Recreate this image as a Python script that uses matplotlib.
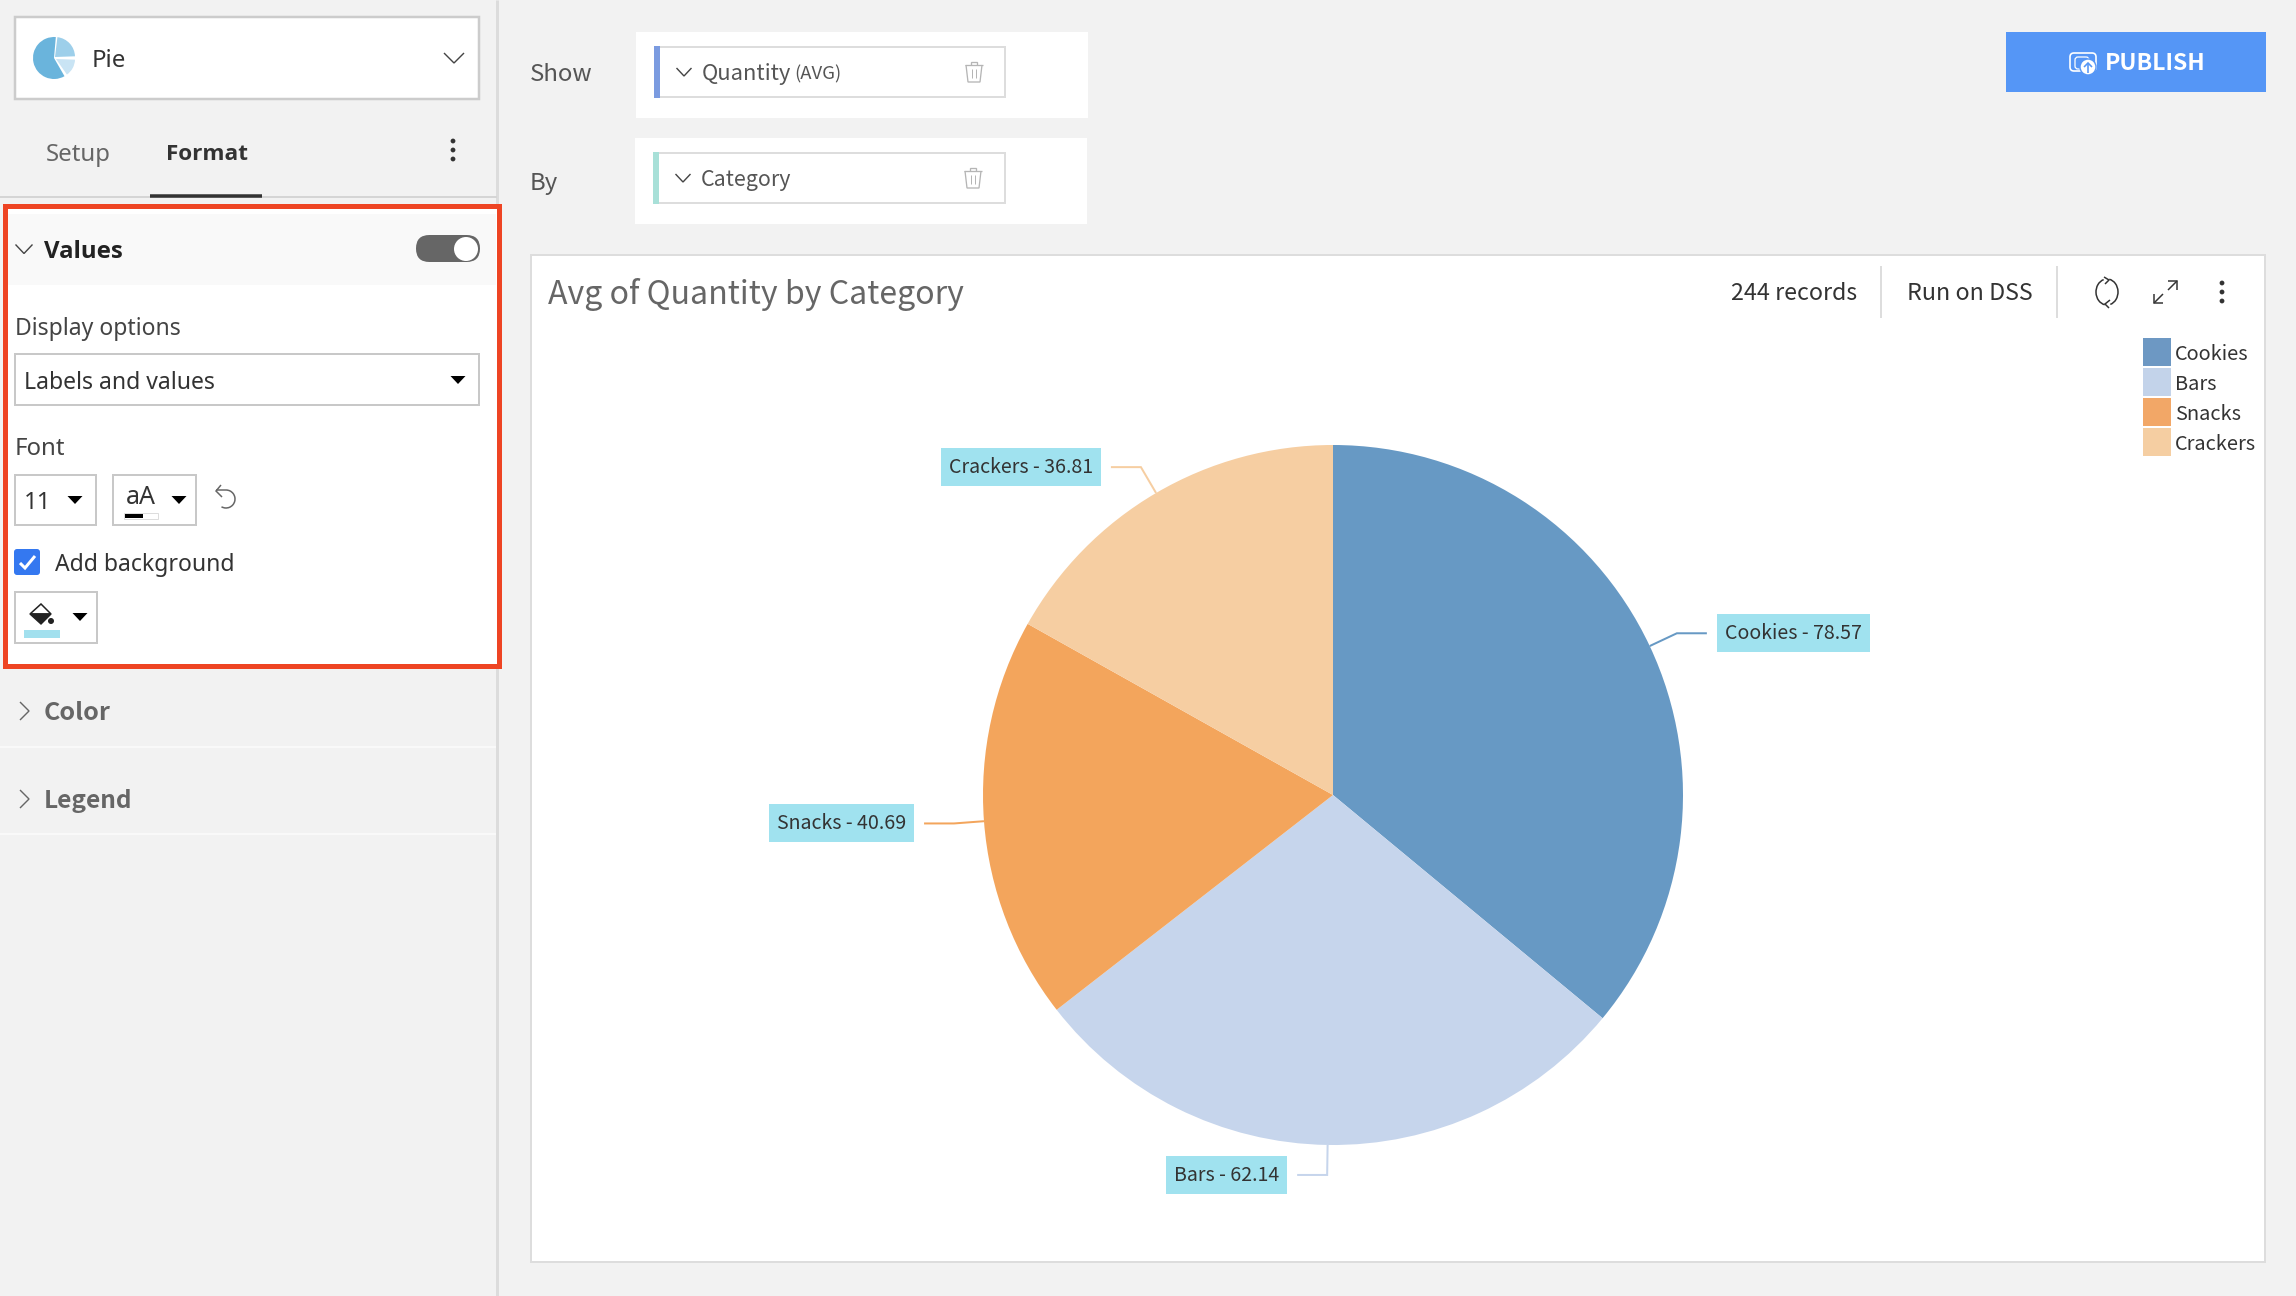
import numpy as np
import matplotlib
matplotlib.use('Agg')
import matplotlib.pyplot as plt
from matplotlib.patches import Rectangle, Wedge, Circle, Polygon, Arc, FancyBboxPatch

# Data
categories = ['Cookies', 'Bars', 'Snacks', 'Crackers']
avg_quantity = [78.57, 62.14, 40.69, 36.81]
slice_colors = ['#6799c4', '#c6d5ec', '#f3a55c', '#f6cea2']
legend_colors = ['#6d98c3', '#c3d3ea', '#f2a767', '#f5cea2']

# Screen layout, in pixels of the 2296x1296 picture
W, H = 2296, 1296
PIE_X, PIE_Y, PIE_R = 1333, 795, 350
SANS = 'Noto Sans'
BOLD = 'Open Sans'
SOURCE = 'Noto Sans CJK SC'

fig = plt.figure(figsize=(W / 100, H / 100), dpi=100, facecolor='#f2f2f2')
ax = fig.add_axes([0, 0, 1, 1])
ax.set_xlim(0, W)
ax.set_ylim(H, 0)
ax.axis('off')


def label(x, y, s, px, color='#333333', family=SOURCE, weight='normal', ha='left', zorder=5):
    # y is the visual middle of the capitals, drawn on the baseline
    return ax.text(x, y + 0.36 * px, s, fontsize=px * 0.72, color=color, family=family,
                   fontweight=weight, ha=ha, va='baseline', zorder=zorder)


def box(x0, y0, x1, y1, face='white', edge='none', lw=0, zorder=2):
    ax.add_patch(Rectangle((x0, y0), x1 - x0, y1 - y0, facecolor=face, edgecolor=edge,
                           linewidth=lw * 0.72, zorder=zorder))


def line(xs, ys, color='#333333', lw=1.5, zorder=4):
    ax.plot(xs, ys, color=color, lw=lw * 0.72, zorder=zorder, solid_capstyle='butt',
            solid_joinstyle='miter')


def chevron_down(x, y, w=15, h=8, color='#444444'):
    line([x - w / 2, x, x + w / 2], [y - h / 2, y + h / 2, y - h / 2], color=color, lw=1.4)


def chevron_right(x, y, color='#666666'):
    line([x - 4, x + 5, x - 4], [y - 9, y, y + 9], color=color, lw=1.4)


def caret(x, y, w=15, h=8):
    ax.add_patch(Polygon([[x - w / 2, y - h / 2], [x + w / 2, y - h / 2], [x, y + h / 2]],
                         facecolor='black', edgecolor='none', zorder=4))


def trash(x, y, color='#b5b5b5'):
    line([x - 8, x - 6, x + 6, x + 8], [y - 7, y + 10, y + 10, y - 7], color=color, lw=1.3)
    line([x - 9, x + 9], [y - 7, y - 7], color=color, lw=1.3)
    line([x - 3, x - 3, x + 3, x + 3], [y - 7, y - 10, y - 10, y - 7], color=color, lw=1.3)
    line([x - 2, x - 2], [y - 3, y + 6], color=color, lw=1)
    line([x + 2, x + 2], [y - 3, y + 6], color=color, lw=1)


def dots(x, y, gap=9, r=2.4, color='#333333'):
    for dy in (-gap, 0, gap):
        ax.add_patch(Circle((x, y + dy), r, facecolor=color, edgecolor='none', zorder=4))


# Left panel
line([497, 497], [0, H], color='#dcdcdc', lw=3, zorder=1)
box(15, 17, 479, 99, edge='#cccccc', lw=2.5)
ax.add_patch(Wedge((54, 58), 21, 60, 275, facecolor='#6ab4dc', edgecolor='none', zorder=4))
ax.add_patch(Wedge((55, 57), 20, 277, 358, facecolor='#9dcfea', edgecolor='none', zorder=4))
ax.add_patch(Wedge((56, 59), 19, 2, 55, facecolor='#c9e4f4', edgecolor='none', zorder=4))
label(92, 58, 'Pie', 24, family=SANS)
chevron_down(454, 58, w=20, h=10)

label(46, 152, 'Setup', 24, color='#666666', family=SANS)
label(166, 152, 'Format', 22.5, color='#333333', family=BOLD, weight='bold')
line([0, 497], [197, 197], color='#d5d5d5', lw=2, zorder=1)
line([150, 262], [196, 196], color='#333333', lw=3.5)
dots(453, 150)

box(5, 206, 499, 666, face='white', edge='#ee4423', lw=5, zorder=2)
box(8, 214, 496, 285, face='#f9f9f9', zorder=3)
chevron_down(24, 249, w=17, h=9)
label(44, 249.5, 'Values', 24, color='#222222', family=BOLD, weight='bold')
ax.add_patch(FancyBboxPatch((416, 235), 64, 27, boxstyle='round,pad=0,rounding_size=13.4',
                            facecolor='#666666', edgecolor='none', zorder=4))
ax.add_patch(Circle((466, 249), 12, facecolor='white', edgecolor='none', zorder=5))

label(15, 327, 'Display options', 23, color='#444444', family=SANS)
box(15, 354, 479, 405, edge='#c8c8c8', lw=2, zorder=4)
label(24, 381, 'Labels and values', 23, family=SANS)
caret(458, 380)

label(15, 446, 'Font', 24, color='#444444', family=SANS)
box(15, 475, 96, 525, edge='#c8c8c8', lw=2, zorder=4)
label(24, 500, '11', 24, family=SANS)
caret(75, 500)
box(113, 475, 196, 525, edge='#c8c8c8', lw=2, zorder=4)
label(126, 495, 'aA', 25, family=SANS)
box(124, 513, 158, 519, face='white', edge='#dddddd', lw=1, zorder=4)
box(125, 514, 143, 518, face='black', zorder=5)
caret(179, 500)
ax.add_patch(Arc((226, 499), 18, 18, theta1=-90, theta2=120, color='#666666', lw=1.1, zorder=4))
line([226, 216], [490, 490], color='#666666', lw=1.5)
line([221, 216, 222], [485, 491, 497], color='#666666', lw=1.5)

ax.add_patch(FancyBboxPatch((14, 549), 26, 26, boxstyle='round,pad=0,rounding_size=3',
                            facecolor='#3478f0', edgecolor='none', zorder=4))
line([20, 25, 35], [563, 568, 556], color='white', lw=3, zorder=5)
label(55, 563, 'Add background', 23, family=SANS)

box(15, 592, 97, 643, edge='#c8c8c8', lw=2, zorder=4)
ax.add_patch(Polygon([[41, 604], [51, 614], [30, 614]], facecolor='white',
                     edgecolor='#222222', linewidth=1.1, zorder=5))
ax.add_patch(Polygon([[30, 614], [51, 614], [41, 624]], facecolor='#222222',
                     edgecolor='#222222', linewidth=1, zorder=5))
ax.add_patch(Circle((51, 621), 3, facecolor='#222222', edgecolor='none', zorder=5))
box(24, 630, 60, 638, face='#a2e0ee', zorder=5)
caret(80, 617)

chevron_right(24, 711)
label(44, 711, 'Color', 25, color='#666666', weight='bold')
line([0, 496], [747, 747], color='#f9f9f9', lw=2, zorder=1)
chevron_right(24, 799)
label(44, 799, 'Legend', 24.5, color='#666666', weight='bold')
line([0, 496], [834, 834], color='#f9f9f9', lw=2, zorder=1)

# Show / By fields
label(530, 72, 'Show', 24, color='#555555')
box(636, 32, 1088, 118)
box(657, 47, 1005, 97, edge='#dddddd', lw=2, zorder=3)
box(654, 46, 660, 98, face='#7b9be0', zorder=4)
chevron_down(684, 72)
label(702, 72, 'Quantity', 22, color='#555555')
label(794, 73, '(AVG)', 18.5, color='#555555')
trash(974, 72)

label(530, 181, 'By', 24, color='#555555')
box(635, 138, 1087, 224)
box(656, 153, 1005, 203, edge='#dddddd', lw=2, zorder=3)
box(653, 152, 659, 204, face='#a8e0d8', zorder=4)
chevron_down(683, 178)
label(701, 178, 'Category', 21.5, color='#555555')
trash(973, 178)

# Publish button
box(2006, 32, 2266, 92, face='#5596f6')
ax.add_patch(FancyBboxPatch((2070, 53), 26, 18, boxstyle='round,pad=0,rounding_size=4',
                            facecolor='none', edgecolor='white', linewidth=1.2, zorder=4))
ax.add_patch(FancyBboxPatch((2075, 57), 14, 12, boxstyle='round,pad=0,rounding_size=3',
                            facecolor='none', edgecolor='white', linewidth=0.9, zorder=4))
ax.add_patch(Circle((2088, 67), 8, facecolor='white', edgecolor='#5596f6', linewidth=1, zorder=5))
line([2088, 2088], [73, 63], color='#5596f6', lw=1.6, zorder=6)
line([2084, 2088, 2092], [67, 63, 67], color='#5596f6', lw=1.6, zorder=6)
label(2105, 62, 'PUBLISH', 23, color='white', weight='bold')

# Chart panel
box(531, 255, 2265, 1262, edge='#dddddd', lw=2, zorder=1)
label(548, 292, 'Avg of Quantity by Category', 32.1, color='#666666')
label(1731, 292, '244 records', 23.2)
line([1881, 1881], [266, 318], color='#dddddd', lw=2)
label(1907, 292, 'Run on DSS', 23.3)
line([2057, 2057], [266, 318], color='#dddddd', lw=2)
ax.add_patch(Arc((2107, 292), 22, 26, theta1=100, theta2=255, color='#333333', lw=1.1, zorder=4))
ax.add_patch(Arc((2107, 292), 22, 26, theta1=-80, theta2=75, color='#333333', lw=1.1, zorder=4))
line([2104, 2109, 2105], [277, 280, 284], lw=1.5)
line([2110, 2105, 2109], [300, 304, 308], lw=1.5)
line([2154, 2163], [303, 294], lw=1.5)
line([2154, 2154, 2163], [294, 303, 303], lw=1.5)
line([2168, 2177], [290, 281], lw=1.5)
line([2168, 2177, 2177], [281, 281, 290], lw=1.5)
dots(2222, 292)

# Legend
for i, (cat, col) in enumerate(zip(categories, legend_colors)):
    box(2143, 338 + 30 * i, 2171, 366 + 30 * i, face=col)
    label(2175, 352.5 + 30 * i, cat, 20)

# Pie
ax_pie = fig.add_axes([(PIE_X - PIE_R) / W, 1 - (PIE_Y + PIE_R) / H, 2 * PIE_R / W, 2 * PIE_R / H])
ax_pie.pie(avg_quantity, colors=slice_colors, startangle=90, counterclock=False, radius=1)
ax_pie.set_xlim(-1, 1)
ax_pie.set_ylim(-1, 1)

# Value labels with leader lines from each slice's middle
total = sum(avg_quantity)
start = 0
fig.canvas.draw()
for cat, val, col in zip(categories, avg_quantity, slice_colors):
    mid = np.radians(start + val / total * 180)
    start += val / total * 360
    sx, sy = np.sin(mid), -np.cos(mid)
    side = 1 if sx > 0 else -1
    ex, ey = PIE_X + (PIE_R + 30) * sx, PIE_Y + (PIE_R + 30) * sy
    end_x = ex + 30 * side
    line([PIE_X + PIE_R * sx, ex, end_x], [PIE_Y + PIE_R * sy, ey, ey], color=col, lw=2, zorder=3)
    edge = end_x + 10 * side
    t = label(edge + 8 * side, ey - 1.5, f'{cat} - {val}', 19.6, color='#333333',
              ha='left' if side > 0 else 'right')
    w = t.get_window_extent(fig.canvas.get_renderer()).width + 16
    box(edge if side > 0 else edge - w, ey - 19, edge + w if side > 0 else edge, ey + 19, face='#a0e2ef')

fig.savefig('out.png', dpi=100, facecolor=fig.get_facecolor())
